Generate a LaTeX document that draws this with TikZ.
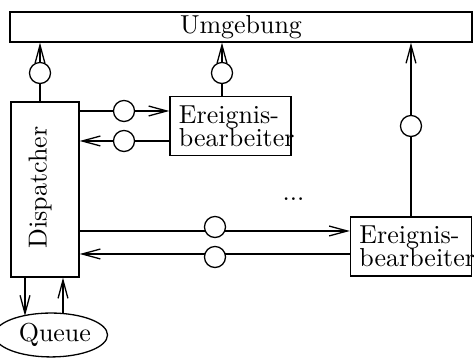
\documentclass[tikz,border=0pt]{standalone}
\usepackage{graphicx}
\usetikzlibrary{arrows.meta,shapes.geometric}

\tikzset{
  thin line/.style={line width=0.5pt},
  box/.style={draw, thin line, inner sep=0pt, rectangle},
  handler/.style={box, text width=39.7pt, inner xsep=3.45pt, inner ysep=0pt,
    minimum height=22.7pt, align=left},
  port/.style={draw, thin line, circle, fill=white, minimum size=8.1pt, inner sep=0pt},
  arr/.style={thin line, -{Straight Barb[length=7pt,width=3.8pt]}}
}

\begin{document}
\begin{tikzpicture}[x=0.385pt, y=-0.385pt]
\useasboundingbox (0,0) rectangle (474,358);

% environment, dispatcher, event handlers and queue
\node[box, minimum width=177.9pt, minimum height=11.55pt] (umg) at (241,27)
  {Umgebung\hspace{6.6pt}};
\node[box, minimum width=26.2pt, minimum height=67.4pt] (disp) at (45,189.5)
  {\rotatebox{90}{\hspace{1.5pt}Dispatcher\rule[-5.74pt]{0pt}{5.74pt}}};
\node[handler] (eb1) at (230.5,126) {Ereignis-\\[-3.05pt]\mbox{bearbeiter}};
\node[handler] (eb2) at (411,246.5) {Ereignis-\\[-3.05pt]\mbox{bearbeiter}};
\node[draw, thin line, ellipse, inner sep=0pt, minimum width=39.3pt,
  minimum height=16.9pt] (queue) at (51,335) {\hspace{3pt}Queue};
\node[inner sep=0pt, anchor=base] (dots) at (293.5,200.5) {...};

% interface positions
\coordinate (c1) at (40,73);
\coordinate (c2) at (222,73);
\coordinate (c7) at (411,126);
\coordinate (c3) at (124,111);
\coordinate (c4) at (124,141);
\coordinate (c5) at (215,227);
\coordinate (c6) at (215,257);
\coordinate (l5) at (0,231);
\coordinate (l6) at (0,254);
\coordinate (qin) at (25,316);
\coordinate (qout) at (63,314);

% connectors
\draw[arr] (disp.north -| c1) -- (umg.south -| c1);
\draw[arr] (eb1.north -| c2) -- (umg.south -| c2);
\draw[arr] (eb2.north -| c7) -- (umg.south -| c7);
\draw[arr] (disp.east |- c3) -- (eb1.west |- c3);
\draw[arr] (eb1.west |- c4) -- (disp.east |- c4);
\draw[arr] (disp.east |- l5) -- (eb2.west |- l5);
\draw[arr] (eb2.west |- l6) -- (disp.east |- l6);
\draw[arr] (disp.south -| qin) -- (qin);
\draw[arr] (qout) -- (disp.south -| qout);

% interface circles on the connectors
\node[port] (p1) at (c1) {};
\node[port] (p2) at (c2) {};
\node[port] (p3) at (c3) {};
\node[port] (p4) at (c4) {};
\node[port] (p5) at (c5) {};
\node[port] (p6) at (c6) {};
\node[port] (p7) at (c7) {};
\end{tikzpicture}
\end{document}
